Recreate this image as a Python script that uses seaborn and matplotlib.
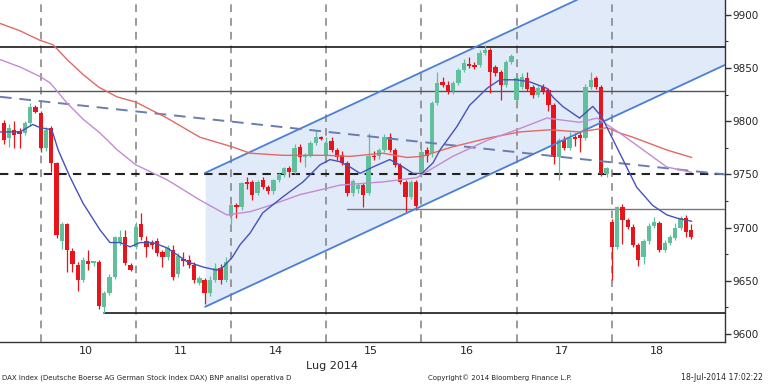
import numpy as np
import pandas as pd
import matplotlib
matplotlib.use("Agg")
import matplotlib.pyplot as plt
import seaborn as sns

# ---------------- data ----------------
bar_index = list(range(-7, 124))
opens = [9798, 9784, 9792, 9791, 9789, 9798, 9813,
         9808, 9775, 9794, 9761, 9687, 9703, 9678, 9665, 9651, 9669, 9667, 9668, 9625, 9639, 9654, 9686, 9691, 9665,
         9682, 9703, 9687, 9686, 9687, 9677, 9672, 9679, 9656, 9671, 9670, 9665, 9648, 9651, 9639, 9651, 9662, 9651,
         9711, 9721, 9719, 9743, 9743, 9733, 9745, 9738, 9734, 9745, 9750, 9756, 9752, 9776, 9766, 9768, 9780, 9785,
         9767, 9781, 9773, 9768, 9761, 9733, 9736, 9740, 9733, 9767, 9767, 9773, 9785, 9773, 9759, 9743, 9729, 9743,
         9752, 9773, 9770, 9817, 9837, 9834, 9828, 9836, 9848, 9854, 9853, 9853, 9864, 9867, 9851, 9846, 9834, 9856,
         9820, 9832, 9841, 9832, 9825, 9832, 9829, 9815, 9766, 9782, 9775, 9785, 9787, 9784, 9832, 9841, 9832, 9750,
         9705, 9682, 9719, 9707, 9701, 9684, 9672, 9687, 9702, 9704, 9679, 9686, 9690, 9700, 9709, 9698]
highs = [9801, 9797, 9800, 9794, 9800, 9817, 9815,
         9810, 9795, 9796, 9762, 9705, 9704, 9681, 9668, 9672, 9679, 9669, 9670, 9640, 9656, 9692, 9698, 9698, 9667,
         9705, 9714, 9692, 9688, 9690, 9679, 9684, 9684, 9676, 9677, 9674, 9668, 9655, 9653, 9655, 9667, 9666, 9672,
         9722, 9723, 9743, 9748, 9745, 9745, 9748, 9740, 9746, 9751, 9757, 9758, 9779, 9779, 9770, 9781, 9792, 9786,
         9785, 9785, 9775, 9772, 9763, 9746, 9742, 9742, 9789, 9772, 9775, 9788, 9789, 9775, 9761, 9745, 9745, 9745,
         9776, 9776, 9819, 9846, 9842, 9838, 9838, 9850, 9859, 9860, 9856, 9867, 9872, 9869, 9853, 9848, 9858, 9863,
         9843, 9845, 9846, 9834, 9833, 9835, 9831, 9817, 9784, 9786, 9790, 9789, 9790, 9835, 9846, 9843, 9834, 9757,
         9708, 9720, 9722, 9709, 9703, 9686, 9689, 9704, 9710, 9706, 9688, 9693, 9704, 9711, 9712, 9703]
lows = [9779, 9776, 9775, 9775, 9787, 9796, 9808,
        9771, 9772, 9752, 9690, 9680, 9658, 9658, 9640, 9649, 9660, 9664, 9624, 9620, 9637, 9652, 9684, 9665, 9659,
        9680, 9688, 9672, 9680, 9673, 9663, 9670, 9651, 9654, 9664, 9662, 9648, 9646, 9628, 9636, 9649, 9647, 9649,
        9703, 9709, 9717, 9736, 9726, 9731, 9736, 9732, 9732, 9743, 9748, 9748, 9750, 9762, 9757, 9766, 9778, 9782,
        9766, 9771, 9764, 9759, 9730, 9730, 9733, 9719, 9731, 9764, 9765, 9771, 9771, 9757, 9741, 9715, 9727, 9717,
        9748, 9762, 9766, 9815, 9832, 9826, 9826, 9834, 9846, 9850, 9849, 9851, 9862, 9827, 9843, 9820, 9832, 9854,
        9815, 9830, 9828, 9822, 9823, 9826, 9810, 9760, 9745, 9773, 9773, 9777, 9771, 9782, 9830, 9830, 9749, 9748,
        9651, 9680, 9685, 9699, 9682, 9664, 9666, 9685, 9700, 9677, 9677, 9684, 9688, 9698, 9691, 9689]
closes = [9782, 9794, 9787, 9788, 9798, 9813, 9809,
          9775, 9792, 9761, 9693, 9703, 9679, 9666, 9651, 9670, 9666, 9668, 9626, 9639, 9654, 9691, 9691, 9667, 9660,
          9701, 9691, 9682, 9684, 9676, 9672, 9681, 9654, 9673, 9669, 9665, 9651, 9653, 9639, 9651, 9662, 9651, 9668,
          9721, 9719, 9742, 9741, 9731, 9743, 9738, 9734, 9745, 9750, 9756, 9752, 9775, 9766, 9768, 9780, 9785, 9783,
          9780, 9773, 9766, 9761, 9733, 9744, 9740, 9731, 9767, 9766, 9773, 9785, 9773, 9759, 9743, 9729, 9743, 9720,
          9771, 9767, 9817, 9836, 9834, 9828, 9836, 9848, 9855, 9852, 9851, 9864, 9867, 9846, 9845, 9834, 9856, 9861,
          9841, 9842, 9830, 9825, 9831, 9828, 9815, 9766, 9782, 9775, 9784, 9783, 9784, 9832, 9839, 9832, 9750, 9756,
          9682, 9719, 9707, 9701, 9684, 9670, 9687, 9702, 9705, 9679, 9686, 9691, 9700, 9709, 9696, 9691]

# moving averages (bar index, price)
ma_fast_x = [-7.7, -3.9, -1.5, -0.1, 2.1, 3.3, 5.5, 8.0, 11.2, 13.1, 15.0, 16.9, 18.8, 21.2, 23.9, 27.7, 30.7, 33.3,
             34.5, 36.2, 37.7, 39.6, 42.0, 45.8, 49.6, 52.8, 54.7, 56.6, 58.5, 60.4, 62.8, 66.0, 67.9, 70.4, 72.1,
             74.2, 75.5, 78.7, 81.1, 84.4, 86.8, 90.0, 92.5, 95.7, 96.8, 98.7, 101.9, 104.4, 106.1, 107.6, 110.1,
             112.7, 115.7, 118.4, 120.3, 123.1]
ma_fast_y = [9790, 9790, 9797, 9794, 9792, 9773, 9748, 9723, 9698, 9686, 9686, 9682, 9686, 9686, 9681, 9668, 9663, 9660,
             9663, 9672, 9684, 9695, 9714, 9729, 9743, 9759, 9764, 9762, 9757, 9751, 9757, 9764, 9759, 9751, 9751,
             9761, 9773, 9795, 9815, 9831, 9839, 9839, 9837, 9831, 9823, 9814, 9803, 9814, 9804, 9789, 9764,
             9738, 9721, 9712, 9709, 9706]
ma_mid_x = [-7.7, -3.9, -0.1, 1.8, 5.0, 8.0, 11.2, 14.5, 18.0, 23.9, 30.1, 35.2, 39.6, 42.8, 49.0, 54.1, 56.6, 64.7,
            71.1, 77.9, 84.4, 90.0, 95.7, 101.9, 105.2, 109.5, 112.0, 118.4, 123.1]
ma_mid_y = [9858, 9851, 9842, 9836, 9817, 9802, 9789, 9773, 9759, 9745, 9726, 9712, 9715, 9720, 9731, 9737, 9740, 9743,
            9747, 9767, 9782, 9792, 9803, 9799, 9803, 9789, 9780, 9757, 9752]
ma_slow_x = [-7.7, -3.9, -0.1, 2.3, 5.0, 8.0, 11.0, 14.4, 18.0, 23.9, 30.1, 36.2, 39.6, 45.8, 54.1, 58.5, 64.7, 69.2,
             72.1, 77.9, 84.4, 90.6, 96.3, 101.9, 107.1, 109.5, 112.0, 118.4, 123.1]
ma_slow_y = [9892, 9885, 9876, 9872, 9858, 9844, 9832, 9823, 9818, 9803, 9785, 9776, 9770, 9768, 9768, 9767, 9770,
             9766, 9767, 9776, 9784, 9790, 9792, 9790, 9794, 9789, 9785, 9773, 9766]

day_labels = ["10", "11", "14", "15", "16", "17", "18"]
bars_per_day = 18
y_ticks = [9600, 9650, 9700, 9750, 9800, 9850, 9900]

# reference levels
level_top = 9870
level_grey = 9828
level_dash = 9750
level_support = 9718
level_bottom = 9620
trend_x = [-7.7, 129.4]
trend_y = [9823, 9750]
channel_x = [31.1, 129.4]
channel_low = [9625.6, 9853.0]
channel_high = [9751.5, 9978.9]

# ---------------- figure ----------------
sns.set_style("white")
plt.rcParams['font.family'] = ['DejaVu Sans']
fig = plt.figure(figsize=(7.68, 3.84), dpi=100)
ax = fig.add_axes([0.0, (384 - 341.5) / 384, 725 / 768, 341.5 / 384])

xmin, xmax = -7.7, 129.4
ymin, ymax = 9593, 9914
ax.set_xlim(xmin, xmax)
ax.set_ylim(ymin, ymax)

# channel fill
cx = np.array(channel_x)
ax.fill_between(cx, channel_low, channel_high, color="#e1eaf8", zorder=1, linewidth=0)

# day separators
for k in range(len(day_labels)):
    ax.axvline(k * bars_per_day, color="#808080", lw=1.1, ls=(0, (5, 4)), zorder=2)

# horizontal levels
ax.axhline(level_top, color="#1a1a1a", lw=1.2, zorder=3)
ax.axhline(level_grey, color="#555555", lw=1.0, zorder=3)
ax.axhline(level_dash, color="#222222", lw=1.5, ls=(0, (4, 3)), zorder=3)
ax.plot([57.9, xmax], [level_support, level_support], color="#777777", lw=1.0, zorder=3)
ax.plot([12.0, xmax], [level_bottom, level_bottom], color="#1a1a1a", lw=1.2, zorder=3)

# candles
df = pd.DataFrame({"i": bar_index, "o": opens, "h": highs, "l": lows, "c": closes})
up_col, dn_col = "#5fc09b", "#e8141c"
for _, r in df.iterrows():
    col = up_col if r.c >= r.o else dn_col
    ax.vlines(r.i, r.l, r.h, color=col, lw=0.9, zorder=5)
    lo = min(r.o, r.c)
    h = max(abs(r.c - r.o), 1.2)
    ax.bar(r.i, h, bottom=lo, width=0.82, color=col, edgecolor="none", zorder=5)

# channel lines & trend line
sns.lineplot(x=channel_x, y=channel_low, color="#4b7fd6", lw=1.3, ax=ax, zorder=6)
sns.lineplot(x=channel_x, y=channel_high, color="#4b7fd6", lw=1.3, ax=ax, zorder=6)
ax.plot(trend_x, trend_y, color="#6a7db0", lw=1.4, ls=(0, (6, 4)), zorder=6)

# moving averages
sns.lineplot(x=ma_slow_x, y=ma_slow_y, color="#e06a66", lw=1.0, ax=ax, sort=False, estimator=None, zorder=7)
sns.lineplot(x=ma_mid_x, y=ma_mid_y, color="#c58ad6", lw=1.0, ax=ax, sort=False, estimator=None, zorder=7)
sns.lineplot(x=ma_fast_x, y=ma_fast_y, color="#4652b8", lw=1.0, ax=ax, sort=False, estimator=None, zorder=7)

# axes styling
for s in ["left", "top"]:
    ax.spines[s].set_visible(False)
for s in ["right", "bottom"]:
    ax.spines[s].set_visible(True)
    ax.spines[s].set_color("#333333")
    ax.spines[s].set_linewidth(1.0)
ax.yaxis.tick_right()
ax.set_yticks(y_ticks)
ax.set_yticklabels([str(v) for v in y_ticks])
ax.set_yticks(np.arange(9625, 9914, 50), minor=True)
ax.tick_params(axis="y", which="major", direction="out", length=4, width=1, color="#333333",
               labelsize=7.5, pad=1, right=True, left=False)
ax.tick_params(axis="y", which="minor", direction="out", length=2.5, width=0.8, color="#333333",
               right=True, left=False)
centers = [k * bars_per_day + 8.5 for k in range(len(day_labels))]
ax.set_xticks(centers)
ax.set_xticklabels(day_labels)
ax.tick_params(axis="x", length=0, labelsize=8, pad=3)
ax.set_xlabel("")
ax.set_ylabel("")
ax.grid(False)

fig.text(332 / 768, 1 - 366 / 384, "Lug 2014", ha="center", va="center", fontsize=8)
fig.text(2 / 768, 1 - 378 / 384, "DAX Index (Deutsche Boerse AG German Stock Index DAX) BNP analisi operativa D",
         ha="left", va="center", fontsize=5.0)
fig.text(428 / 768, 1 - 378 / 384, "Copyright\u00a9 2014 Bloomberg Finance L.P.", ha="left", va="center", fontsize=5.0)
fig.text(763 / 768, 1 - 378 / 384, "18-Jul-2014 17:02:22", ha="right", va="center", fontsize=5.6)

fig.savefig("out.png", dpi=100)
